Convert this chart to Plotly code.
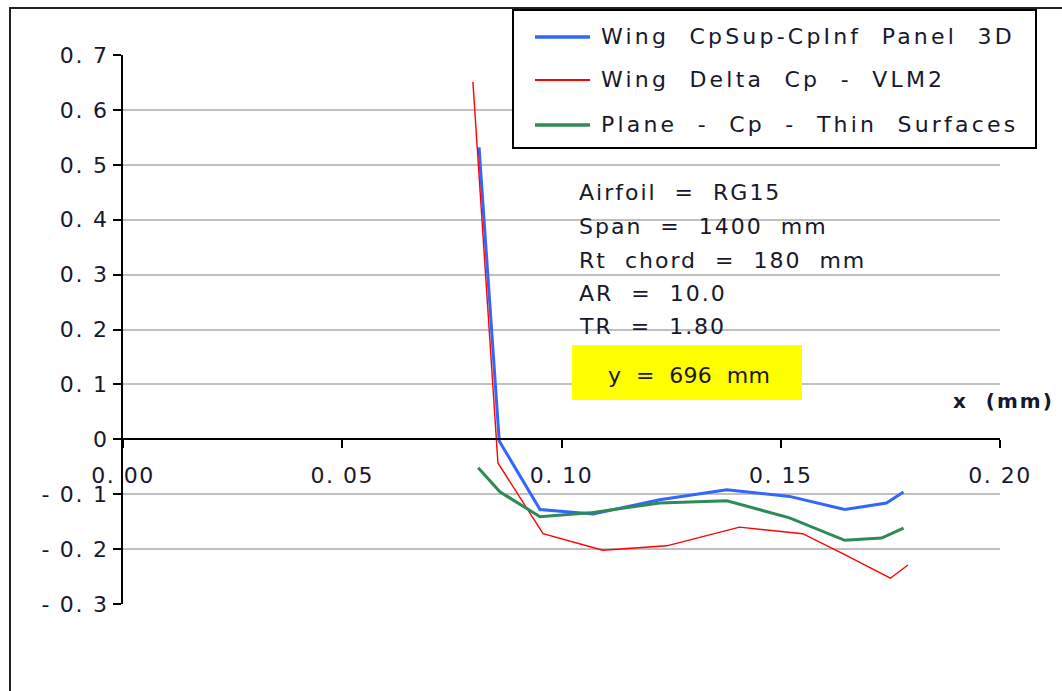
import plotly.graph_objects as go

# ---- data ----
blue_x = [0.0812, 0.0858, 0.0951, 0.1072, 0.1224, 0.1377, 0.1520, 0.1646, 0.1741, 0.1780]
blue_y = [0.532, -0.003, -0.128, -0.136, -0.110, -0.092, -0.104, -0.128, -0.116, -0.096]
red_x = [0.0798, 0.0855, 0.0958, 0.1094, 0.1240, 0.1406, 0.1550, 0.1646, 0.1750, 0.1790]
red_y = [0.651, -0.043, -0.172, -0.202, -0.194, -0.160, -0.172, -0.210, -0.253, -0.229]
green_x = [0.0810, 0.0860, 0.0951, 0.1065, 0.1224, 0.1377, 0.1520, 0.1646, 0.1730, 0.1780]
green_y = [-0.052, -0.096, -0.141, -0.134, -0.116, -0.112, -0.143, -0.184, -0.180, -0.162]

series_names = ["Wing CpSup-CpInf Panel 3D", "Wing Delta Cp - VLM2", "Plane - Cp - Thin Surfaces"]
x_tickvals = [0.00, 0.05, 0.10, 0.15, 0.20]
x_ticktext = ["0. 00", "0. 05", "0. 10", "0. 15", "0. 20"]
y_tickvals = [0.7, 0.6, 0.5, 0.4, 0.3, 0.2, 0.1, 0.0, -0.1, -0.2, -0.3]
y_ticktext = ["0. 7", "0. 6", "0. 5", "0. 4", "0. 3", "0. 2", "0. 1", "0", "- 0. 1", "- 0. 2", "- 0. 3"]
info_lines = ["Airfoil = RG15", "Span = 1400 mm", "Rt chord = 180 mm", "AR = 10.0", "TR = 1.80"]
highlight = "y = 696 mm"
x_title = "x (mm)"

W, H = 1062, 691
ML, MR, MT, MB = 123, 62, 55, 87
PW, PH = W - ML - MR, H - MT - MB

def fx(px):
    return (px - ML) / PW

def fy(py):
    return (H - MB - py) / PH

FONT = "DejaVu Sans"
TXT = "#18182c"
NB = "\u00a0"

def styled(s, ls, double=True):
    if double:
        s = s.replace(" ", NB * 2)
    return '<span style="letter-spacing:%spx">%s</span>' % (ls, s)

colors = ["#3366ff", "#ff0000", "#2e8b57"]
widths = [3, 1.4, 3]

fig = go.Figure()
for xs, ys, c, w, n in zip([blue_x, red_x, green_x], [blue_y, red_y, green_y], colors, widths, series_names):
    fig.add_trace(go.Scatter(x=xs, y=ys, mode="lines", line=dict(color=c, width=w), name=n, showlegend=False))

fig.update_layout(
    width=W, height=H,
    margin=dict(l=ML, r=MR, t=MT, b=MB),
    paper_bgcolor="white", plot_bgcolor="white",
    font=dict(family=FONT, size=22, color=TXT),
    xaxis=dict(range=[0, 0.2], tickvals=x_tickvals, ticktext=[styled(t, 1.5, False) for t in x_ticktext],
               showgrid=False, zeroline=False, showline=True, linecolor="black", linewidth=2,
               ticks="outside", ticklen=8, tickwidth=2, tickcolor="black",
               anchor="free", position=0.3, ticklabelstandoff=8,
               tickfont=dict(family=FONT, size=22, color=TXT)),
    yaxis=dict(range=[-0.3, 0.7], tickvals=y_tickvals, ticktext=[styled(t, 1.7, False) for t in y_ticktext],
               showgrid=True, gridcolor="#c0c0c0", gridwidth=1.5, zeroline=False,
               showline=True, linecolor="black", linewidth=2,
               ticks="outside", ticklen=8, tickwidth=2, tickcolor="black",
               tickfont=dict(family=FONT, size=22, color=TXT)),
)

shapes = []
# outer chart frame
shapes.append(dict(type="rect", xref="paper", yref="paper", x0=fx(10), x1=fx(1080), y0=fy(710), y1=fy(8),
                   line=dict(color="#222222", width=2), fillcolor="rgba(0,0,0,0)", layer="above"))
# legend box
shapes.append(dict(type="rect", xref="paper", yref="paper", x0=fx(513), x1=fx(1036), y0=fy(148), y1=fy(10),
                   line=dict(color="black", width=2), fillcolor="white", layer="above"))
leg_y = [37, 80, 125]
annotations = []
for yy, c, w, n in zip(leg_y, colors, widths, series_names):
    shapes.append(dict(type="line", xref="paper", yref="paper", x0=fx(535), x1=fx(590), y0=fy(yy), y1=fy(yy),
                       line=dict(color=c, width=w + 0.5), layer="above"))
    annotations.append(dict(xref="paper", yref="paper", x=fx(599), y=fy(yy), text=styled(n, 3.2), showarrow=False,
                            xanchor="left", yanchor="middle", font=dict(family=FONT, size=22, color=TXT)))
# yellow box
shapes.append(dict(type="rect", xref="paper", yref="paper", x0=fx(572), x1=fx(802), y0=fy(400), y1=fy(345),
                   line=dict(width=0), fillcolor="#ffff00", layer="above"))
fig.update_layout(shapes=shapes)

info_y = [193, 226, 260, 293, 326]
for yy, t in zip(info_y, info_lines):
    annotations.append(dict(xref="paper", yref="paper", x=fx(577), y=fy(yy), text=styled(t, 2.0), showarrow=False,
                            xanchor="left", yanchor="middle", font=dict(family=FONT, size=22, color=TXT)))
annotations.append(dict(xref="paper", yref="paper", x=fx(689), y=fy(375), text=styled(highlight, 0.3), showarrow=False,
                        xanchor="center", yanchor="middle", font=dict(family=FONT, size=22, color=TXT)))
annotations.append(dict(xref="paper", yref="paper", x=fx(1056), y=fy(401),
                        text="<b>" + styled(x_title, 2) + "</b>", showarrow=False,
                        xanchor="right", yanchor="middle", font=dict(family=FONT, size=20, color=TXT)))
fig.update_layout(annotations=annotations)

fig.write_html("out.html")
